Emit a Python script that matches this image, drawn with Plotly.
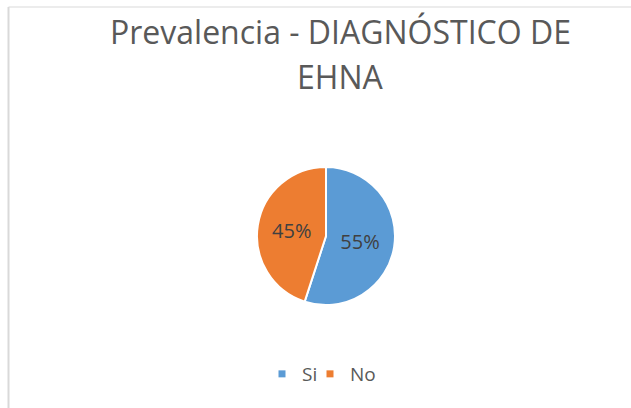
import plotly.graph_objects as go

labels = ["Si", "No"]
values = [55, 45]
colors = ["#5B9BD5", "#ED7D31"]
title_lines = ["Prevalencia - DIAGNÓSTICO DE", "EHNA"]

W, H = 631, 408
fig = go.Figure(go.Pie(
    labels=labels, values=values, sort=False, direction="clockwise", rotation=0,
    marker=dict(colors=colors, line=dict(color="white", width=2)),
    texttemplate="%{percent:.0%}", textposition="inside",
    insidetextorientation="horizontal",
    textfont=dict(family="Open Sans", size=20, color="#404040"),
    domain=dict(x=[257 / W, 395 / W], y=[1 - 305 / H, 1 - 167 / H]),
    hoverinfo="label+percent", showlegend=False,
))

# legend entries with small square swatches (one legend box per entry)
legend_ids = ["legend", "legend2"]
for lab, col, lg in zip(labels, colors, legend_ids):
    fig.add_trace(go.Scatter(x=[None], y=[None], mode="markers", name=lab, legend=lg,
                             marker=dict(symbol="square", size=7, color=col),
                             hoverinfo="skip"))

fig.add_annotation(text=title_lines[0], x=340 / W, y=1 - 47 / H, xref="paper", yref="paper",
                   xanchor="center", yanchor="bottom", yshift=-8, showarrow=False,
                   font=dict(family="Open Sans", size=32, color="#595959"))
fig.add_annotation(text=title_lines[1], x=340 / W, y=1 - 92 / H, xref="paper", yref="paper",
                   xanchor="center", yanchor="bottom", yshift=-8, showarrow=False,
                   font=dict(family="Open Sans", size=32, color="#595959"))

# chart border (top and left visible)
fig.add_shape(type="line", xref="paper", yref="paper", x0=8.5 / W, x1=1.01, y0=1 - 7 / H, y1=1 - 7 / H,
              line=dict(color="#D9D9D9", width=1))
fig.add_shape(type="line", xref="paper", yref="paper", x0=8.5 / W, x1=8.5 / W, y0=-0.01, y1=1 - 7 / H,
              line=dict(color="#D9D9D9", width=2))

leg_style = dict(orientation="h", xanchor="left", y=1 - 374 / H, yanchor="middle",
                 font=dict(family="Open Sans", size=19, color="#595959"),
                 itemwidth=30, bgcolor="rgba(0,0,0,0)")
fig.update_layout(
    width=W, height=H, margin=dict(l=0, r=0, t=0, b=0),
    paper_bgcolor="white", plot_bgcolor="white",
    xaxis=dict(visible=False), yaxis=dict(visible=False),
    showlegend=True,
    legend=dict(x=262 / W, **leg_style),
    legend2=dict(x=310 / W, **leg_style),
)
fig.write_html("out.html", config={"displayModeBar": False},
               post_script="document.body.style.margin='0';")
